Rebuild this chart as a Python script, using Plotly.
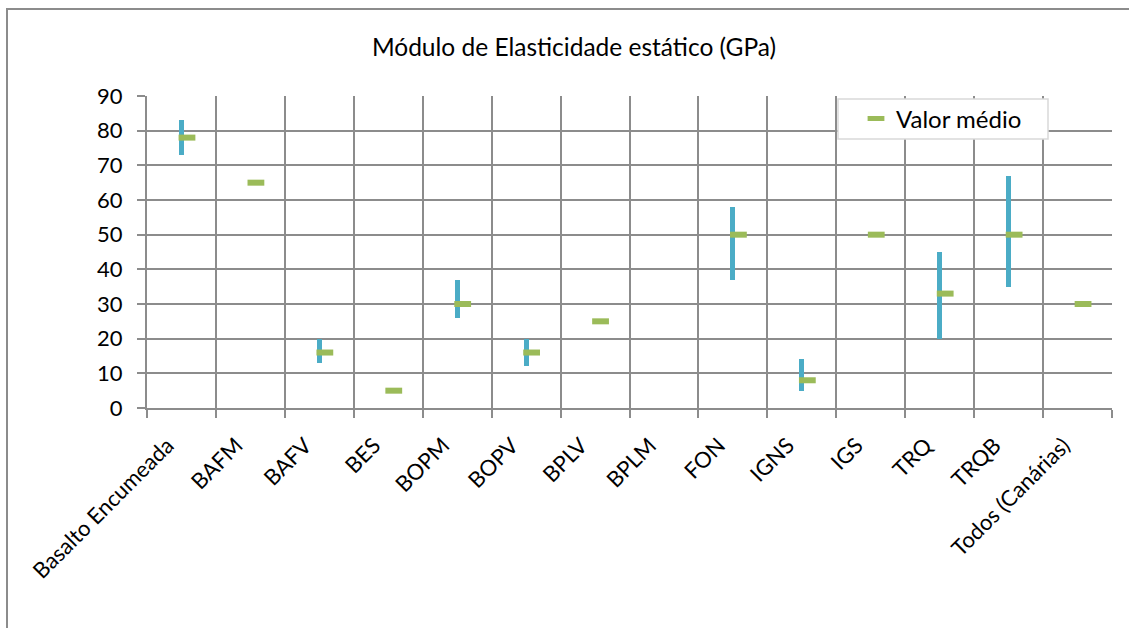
import plotly.graph_objects as go

# Static elastic modulus (GPa) per rock group
categories = ["Basalto Encumeada", "BAFM", "BAFV", "BES", "BOPM", "BOPV", "BPLV",
              "BPLM", "FON", "IGNS", "IGS", "TRQ", "TRQB", "Todos (Canárias)"]
minimo = [73, None, 13, None, 26, 12, None, None, 37, 5, None, 20, 35, None]
maximo = [83, None, 20, None, 37, 20, None, None, 58, 14, None, 45, 67, None]
media = [78, 65, 16, 5, 30, 16, 25, None, 50, 8, 50, 33, 50, 30]
y_ticks = [0, 10, 20, 30, 40, 50, 60, 70, 80, 90]

W, H = 1129, 628
L, R, T, B = 147, 1112, 96, 408

idx = list(range(len(categories)))
grid_col = "#8c8c8c"
font_fam = "Lato, 'Open Sans', sans-serif"

fig = go.Figure()

# min-max range bars
rng_x = [i for i in idx if minimo[i] is not None]
fig.add_trace(go.Bar(
    x=rng_x,
    y=[maximo[i] - minimo[i] for i in rng_x],
    base=[minimo[i] for i in rng_x],
    width=0.075,
    marker=dict(color="#4BACC6", line=dict(width=0)),
    showlegend=False,
    hoverinfo="skip",
))

# mean values
mean_x = [i for i in idx if media[i] is not None]
fig.add_trace(go.Scatter(
    x=[i + 0.08 for i in mean_x],
    y=[media[i] for i in mean_x],
    mode="markers",
    name="Valor médio",
    marker=dict(symbol="line-ew", size=12, color="#9BBB59",
                line=dict(color="#9BBB59", width=6)),
))

pw = R - L
ph = B - T


def px(x):
    return (x - L) / pw


def py(y):
    return (B - y) / ph


# outer chart frame
fig.add_shape(type="rect", xref="paper", yref="paper",
              x0=px(7), x1=px(1140), y0=py(640), y1=py(9),
              line=dict(color="#8c8c8c", width=2), layer="below")
# legend frame
fig.add_shape(type="rect", xref="paper", yref="paper",
              x0=px(838), x1=px(1048), y0=py(139), y1=py(99),
              line=dict(color="#d9d9d9", width=1.5), fillcolor="white",
              layer="above")

fig.update_layout(
    width=W, height=H,
    margin=dict(l=L, r=W - R, t=T, b=H - B, pad=0),
    paper_bgcolor="white", plot_bgcolor="white",
    font=dict(family=font_fam, color="#000000"),
    title=dict(text="Módulo de Elasticidade estático (GPa)",
               x=574 / W, xanchor="center", y=1 - 47 / H, yanchor="middle",
               font=dict(size=24.5, family=font_fam, color="#000000")),
    showlegend=True,
    legend=dict(x=px(856), y=py(119), xanchor="left", yanchor="middle",
                bgcolor="rgba(0,0,0,0)", borderwidth=0,
                font=dict(size=24, family=font_fam), itemwidth=30),
    bargap=0,
)

fig.update_xaxes(
    range=[-0.5, len(categories) - 0.5],
    tickmode="array", tickvals=idx, ticktext=categories,
    tickangle=-45, ticks="", showgrid=False,
    tickfont=dict(size=22, family=font_fam, color="#000000"),
    ticklabelstandoff=14, ticklabelshift=-14,
    showline=True, linecolor=grid_col, linewidth=2,
    minor=dict(tickmode="array", tickvals=[i - 0.5 for i in range(len(categories) + 1)],
               showgrid=True, gridcolor=grid_col, gridwidth=2,
               ticks="outside", ticklen=8, tickcolor=grid_col, tickwidth=2),
    zeroline=False, fixedrange=True,
)
fig.update_yaxes(
    range=[0, 90], tickmode="array", tickvals=y_ticks,
    ticks="outside", ticklen=8, tickcolor=grid_col, tickwidth=2,
    showgrid=True, gridcolor=grid_col, gridwidth=2,
    showline=True, linecolor=grid_col, linewidth=2,
    tickfont=dict(size=22, family=font_fam, color="#000000"),
    ticklabelstandoff=10,
    zeroline=False, fixedrange=True,
)

fig.write_html("out.html")
